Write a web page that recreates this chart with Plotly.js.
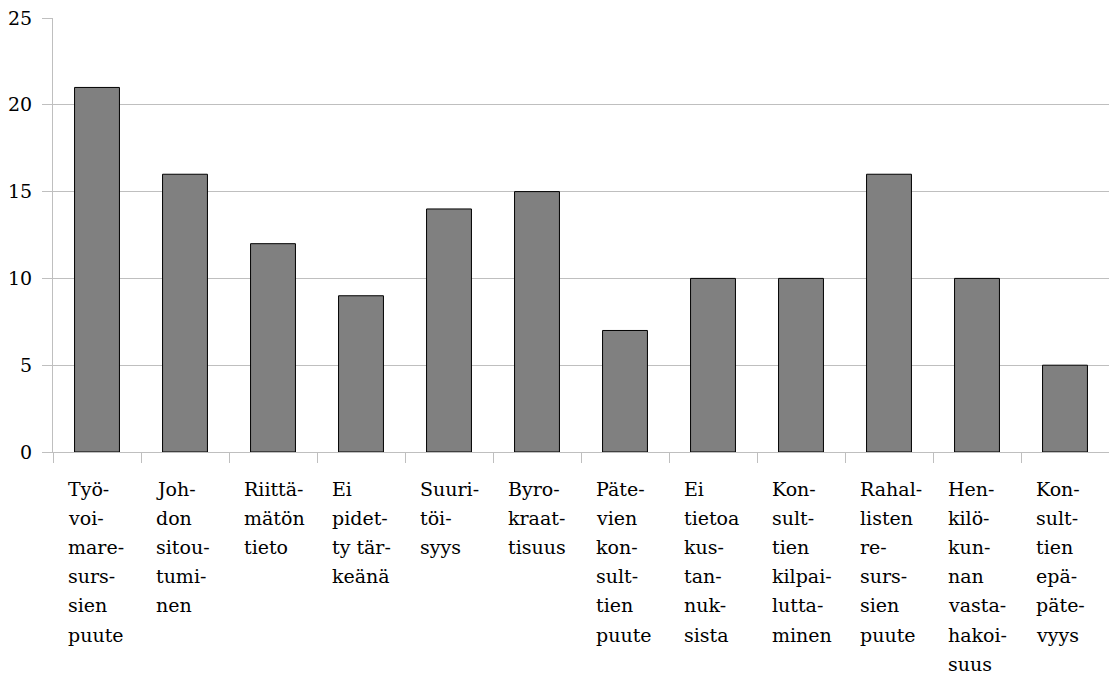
<!DOCTYPE html>
<html>
<head>
<meta charset="utf-8">
<script src="https://cdn.plot.ly/plotly-3.0.1.min.js"></script>
<style>html,body{margin:0;padding:0;background:#fff;}#chart{width:1109px;height:675px;}</style>
</head>
<body>
<div id="chart"></div>
<script>
const categories = [
  "Työvoimaresurssien puute",
  "Johdon sitoutuminen",
  "Riittämätön tieto",
  "Ei pidetty tärkeänä",
  "Suuritöisyys",
  "Byrokraattisuus",
  "Pätevien konsulttien puute",
  "Ei tietoa kustannuksista",
  "Konsulttien kilpailuttaminen",
  "Rahallisten resurssien puute",
  "Henkilökunnan vastahakoisuus",
  "Konsulttien epäpätevyys"
];
const values = [21, 16, 12, 9, 14, 15, 7, 10, 10, 16, 10, 5];
const labelLines = [
  ["Työ-", "voi-", "mare-", "surs-", "sien", "puute"],
  ["Joh-", "don", "sitou-", "tumi-", "nen"],
  ["Riittä-", "mätön", "tieto"],
  ["Ei", "pidet-", "ty tär-", "keänä"],
  ["Suuri-", "töi-", "syys"],
  ["Byro-", "kraat-", "tisuus"],
  ["Päte-", "vien", "kon-", "sult-", "tien", "puute"],
  ["Ei", "tietoa", "kus-", "tan-", "nuk-", "sista"],
  ["Kon-", "sult-", "tien", "kilpai-", "lutta-", "minen"],
  ["Rahal-", "listen", "re-", "surs-", "sien", "puute"],
  ["Hen-", "kilö-", "kun-", "nan", "vasta-", "hakoi-", "suus"],
  ["Kon-", "sult-", "tien", "epä-", "päte-", "vyys"]
];
const yTicks = [0, 5, 10, 15, 20, 25];

const FONT = "DejaVu Serif";
const FS = 19;
const annotations = [];
labelLines.forEach((lines, i) => {
  lines.forEach((ln, j) => {
    annotations.push({
      x: i - 0.5, xref: 'x', y: 0, yref: 'paper',
      xanchor: 'left', yanchor: 'middle',
      xshift: 14, yshift: -(37 + 29.1 * j),
      borderpad: 0,
      text: ln, showarrow: false,
      font: {family: FONT, size: FS, color: '#000'}
    });
  });
});

Plotly.newPlot('chart', [{
  type: 'bar',
  x: categories,
  y: values,
  marker: {color: '#808080', line: {color: '#000', width: 1}},
  hoverinfo: 'none'
}], {
  width: 1109, height: 675,
  margin: {l: 53, r: 0, t: 18, b: 223},
  paper_bgcolor: '#fff', plot_bgcolor: '#fff',
  bargap: 0.49,
  showlegend: false,
  font: {family: FONT, size: FS, color: '#000'},
  xaxis: {
    type: 'category',
    tickson: 'boundaries',
    ticks: 'outside', ticklen: 10, tickcolor: '#bfbfbf', tickwidth: 1,
    showticklabels: false,
    showline: true, linecolor: '#bfbfbf', linewidth: 1,
    showgrid: false, zeroline: false
  },
  yaxis: {
    range: [0, 25],
    tickvals: yTicks,
    ticktext: yTicks.map(String),
    ticks: 'outside', ticklen: 10, tickcolor: '#bfbfbf', tickwidth: 1,
    ticklabelstandoff: 6,
    showline: true, linecolor: '#bfbfbf', linewidth: 1,
    showgrid: true, gridcolor: '#bfbfbf', gridwidth: 1,
    zeroline: false,
    tickfont: {family: FONT, size: FS, color: '#000'}
  },
  annotations: annotations
}, {staticPlot: true});
</script>
</body>
</html>
